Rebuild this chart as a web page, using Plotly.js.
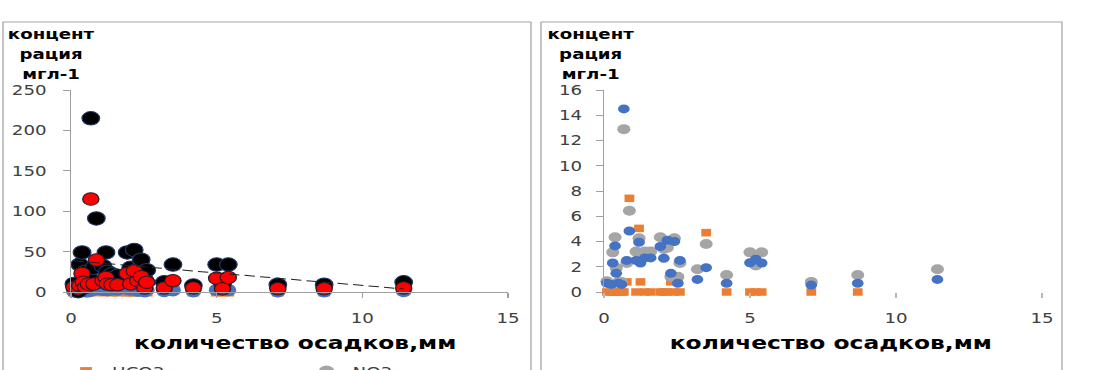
<!DOCTYPE html>
<html>
<head>
<meta charset="utf-8">
<script src="https://cdn.plot.ly/plotly-3.0.1.min.js"></script>
<style>
  html, body { margin: 0; padding: 0; background: #fff; overflow: hidden; }
  #chart { width: 846px; height: 370px; transform: scaleX(1.3002); transform-origin: 0 0; }
</style>
</head>
<body>
<div id="chart"></div>
<script>
// Precipitation amount per rain event, mm
const precip = [0.10, 0.25, 0.30, 0.38, 0.42, 0.50, 0.60, 0.68, 0.78, 0.87,
                1.10, 1.20, 1.25, 1.40, 1.60, 1.93, 2.05, 2.17, 2.29, 2.41,
                2.53, 2.60, 3.20, 3.50, 4.20, 5.00, 5.20, 5.40, 7.10, 8.69, 11.42];

// Ion concentrations, mg/l, one value per event
const hco3 = [0, 0, 0, 0, 0, 0, 0, 0, 0.8, 7.42,
              0, 5.04, 0.8, 0, 0, 0, 0, 0, 0.8, 0,
              0.8, 0, null, 4.7, 0, 0, 0, 0, 0, 0, null];
const no3  = [0.85, 0.6, 3.14, 4.33, 1.9, 0.8, 0.8, 12.9, 2.3, 6.44,
              3.2, 4.25, 2.6, 3.2, 3.2, 4.33, 3.4, 3.5, 1.2, 4.25,
              1.2, 2.3, 1.8, 3.8, 1.35, 3.14, 2.1, 3.14, 0.8, 1.35, 1.8];
const so4  = [0.7, 0.6, 2.3, 3.65, 1.48, 0.7, 0.6, 14.5, 2.5, 4.83,
              2.5, 3.94, 2.3, 2.7, 2.7, 3.6, 2.67, 4.1, 1.48, 4.0,
              0.69, 2.5, 1.0, 1.93, 0.69, 2.32, 2.6, 2.3, 0.55, 0.69, 1.0];
const cl   = [10, 1, 34, 49, 22, 25, 20, 215, 30, 91,
              32, 49, 25, 22, 20, 49, 30, 52, 28, 40,
              15, 27, 12, 34, 8, 34, 10, 34, 9, 9, 12];
const ca   = [6, 4, 8, 23, 12, 6, 10, 115, 10, 39.6,
              14, 18, 10, 9, 9, 23, 10, 26, 14, 19,
              5, 12, 5, 14, 5, 17, 4, 18, 4, 4, 5];

// Linear trend of the chloride series (end points)
const trendX = [0.10, 11.42];
const trendY = [38.6, 3.8];

// Axis ticks
const xTicks = [0, 5, 10, 15];
const yTicksLeft = [0, 50, 100, 150, 200, 250];
const yTicksRight = [0, 2, 4, 6, 8, 10, 12, 14, 16];

const yTitleLines = ['концент', 'рация', 'мгл-1'];
const xTitle = 'количество осадков,мм';

// The drawing is laid out in a narrow frame and widened by the CSS scale.
const W = 846, H = 370, S = 1100 / W;
const px = x => x / S / W;       // page x (px) -> paper x
const py = y => 1 - y / H;       // page y (px) -> paper y

const ORANGE = '#ed7d31', GREY = '#a5a5a5', BLUE = '#4472c4';
const tickFont = { family: 'DejaVu Sans', size: 14, color: '#404040' };

const traces = [
  // left panel
  { x: precip, y: hco3, name: 'HCO3', type: 'scatter', mode: 'markers', xaxis: 'x', yaxis: 'y',
    marker: { symbol: 'square', size: 9, color: ORANGE }, cliponaxis: false },
  { x: precip, y: no3, name: 'NO3', type: 'scatter', mode: 'markers', xaxis: 'x', yaxis: 'y',
    marker: { symbol: 'circle', size: 12, color: GREY }, cliponaxis: false },
  { x: precip, y: so4, name: 'SO4', type: 'scatter', mode: 'markers', xaxis: 'x', yaxis: 'y', showlegend: false,
    marker: { symbol: 'circle', size: 12, color: BLUE }, cliponaxis: false },
  { x: precip, y: cl, name: 'Cl', type: 'scatter', mode: 'markers', xaxis: 'x', yaxis: 'y', showlegend: false,
    marker: { symbol: 'circle', size: 13.5, color: '#000000', line: { color: '#1f3864', width: 1 } }, cliponaxis: false },
  { x: precip, y: ca, name: 'Ca', type: 'scatter', mode: 'markers', xaxis: 'x', yaxis: 'y', showlegend: false,
    marker: { symbol: 'circle', size: 12.5, color: '#ff0000', line: { color: '#2a1a2a', width: 1 } }, cliponaxis: false },
  { x: trendX, y: trendY, name: 'trend', type: 'scatter', mode: 'lines', xaxis: 'x', yaxis: 'y', showlegend: false,
    line: { color: '#222222', width: 1, dash: '8px,4px' } },
  // right panel
  { x: precip, y: hco3, name: 'HCO3', type: 'scatter', mode: 'markers', xaxis: 'x2', yaxis: 'y2', showlegend: false,
    marker: { symbol: 'square', size: 7.5, color: ORANGE }, cliponaxis: false },
  { x: precip, y: no3, name: 'NO3', type: 'scatter', mode: 'markers', xaxis: 'x2', yaxis: 'y2', showlegend: false,
    marker: { symbol: 'circle', size: 10, color: GREY }, cliponaxis: false },
  { x: precip, y: so4, name: 'SO4', type: 'scatter', mode: 'markers', xaxis: 'x2', yaxis: 'y2', showlegend: false,
    marker: { symbol: 'circle', size: 9, color: BLUE }, cliponaxis: false }
];

const axisCommon = {
  showgrid: false, zeroline: false, ticks: 'outside', ticklen: 5,
  tickcolor: '#a0a0a0', linecolor: '#a0a0a0', linewidth: 1, tickfont: tickFont
};

const annotations = [];
[51, 591].forEach(cx => {
  yTitleLines.forEach((t, i) => {
    annotations.push({
      text: '<b>' + t + '</b>', xref: 'paper', yref: 'paper', x: px(cx), y: py(34 + 20 * i),
      xanchor: 'center', yanchor: 'middle', showarrow: false,
      font: { family: 'DejaVu Sans', size: 14, color: '#000' }
    });
  });
});
[295, 831].forEach(cx => {
  annotations.push({
    text: '<b>' + xTitle + '</b>', xref: 'paper', yref: 'paper', x: px(cx), y: py(342),
    xanchor: 'center', yanchor: 'middle', showarrow: false,
    font: { family: 'DejaVu Sans', size: 18, color: '#000' }
  });
});

const layout = {
  width: W, height: H,
  margin: { l: 0, r: 0, t: 0, b: 0, autoexpand: false },
  paper_bgcolor: '#ffffff', plot_bgcolor: 'rgba(0,0,0,0)',
  showlegend: true,
  legend: {
    orientation: 'h', x: px(60), xanchor: 'left', y: py(356), yanchor: 'top',
    entrywidth: 140, font: { family: 'DejaVu Sans', size: 14, color: '#404040' },
    bgcolor: 'rgba(0,0,0,0)'
  },
  xaxis: Object.assign({}, axisCommon, {
    domain: [px(71), px(508)], range: [0, 15], tickvals: xTicks, anchor: 'y',
    showline: true, ticklabelstandoff: 8
  }),
  yaxis: Object.assign({}, axisCommon, {
    domain: [py(292), py(90)], range: [0, 250], tickvals: yTicksLeft, anchor: 'x',
    showline: true, ticklabelstandoff: 10
  }),
  xaxis2: Object.assign({}, axisCommon, {
    domain: [px(604), px(1042)], range: [0, 15], tickvals: xTicks, anchor: 'y2',
    showline: false, tickcolor: '#b8b8b8', ticklabelstandoff: 8
  }),
  yaxis2: Object.assign({}, axisCommon, {
    domain: [py(292), py(90)], range: [0, 16], tickvals: yTicksRight, anchor: 'x2',
    showline: true, ticklabelstandoff: 8
  }),
  shapes: [
    { type: 'rect', xref: 'paper', yref: 'paper', x0: px(3), x1: px(531), y0: py(400), y1: py(22),
      line: { color: '#a6a6a6', width: 1 }, fillcolor: 'rgba(0,0,0,0)', layer: 'below' },
    { type: 'rect', xref: 'paper', yref: 'paper', x0: px(541), x1: px(1062), y0: py(400), y1: py(22),
      line: { color: '#a6a6a6', width: 1 }, fillcolor: 'rgba(0,0,0,0)', layer: 'below' }
  ],
  annotations: annotations
};

Plotly.newPlot('chart', traces, layout, { displayModeBar: false, staticPlot: true });
</script>
</body>
</html>
